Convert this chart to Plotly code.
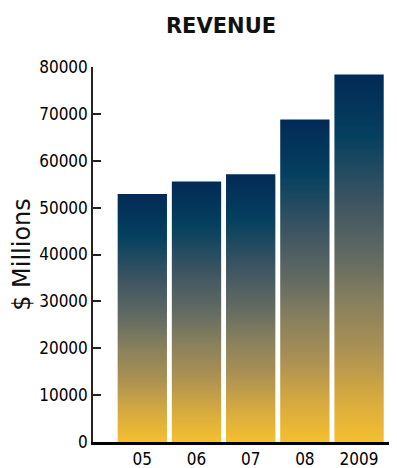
import plotly.graph_objects as go

# ---- data ----
years = ["05", "06", "07", "08", "2009"]
revenue = [52900, 55600, 57100, 68800, 78400]
y_ticks = [0, 10000, 20000, 30000, 40000, 50000, 60000, 70000, 80000]

# ---- style ----
# the page body has an 8px margin, so the figure is sized to the visible area
W, H = 389, 460
bar_width = 0.91
gradient = [
    [0.00, "#f5bf2f"],
    [0.12, "#d6aa40"],
    [0.25, "#ab9153"],
    [0.38, "#88805e"],
    [0.50, "#636b62"],
    [0.65, "#3e5562"],
    [0.83, "#05405f"],
    [1.00, "#022a55"],
]
tick_font = dict(family="DejaVu Sans Condensed, DejaVu Sans, sans-serif", size=17, color="#000")

fig = go.Figure()
for i, (yr, v) in enumerate(zip(years, revenue)):
    x0, x1 = i - bar_width / 2, i + bar_width / 2
    fig.add_trace(go.Scatter(
        x=[x0, x1, x1, x0, x0],
        y=[0, 0, v, v, 0],
        mode="none",
        fill="toself",
        fillgradient=dict(type="vertical", colorscale=gradient),
        name=yr,
        hoverinfo="skip",
        showlegend=False,
    ))

fig.update_layout(
    width=W, height=H,
    margin=dict(l=85, r=0, t=59, b=26),
    paper_bgcolor="white", plot_bgcolor="white",
    title=dict(text="<b>REVENUE</b>", x=213 / W, xanchor="center", xref="container",
               y=1 - 18 / H, yanchor="middle", yref="container",
               font=dict(family="DejaVu Sans", size=21, color="#111")),
    showlegend=False,
)
fig.update_xaxes(
    range=[-0.91, 4.70], tickmode="array", tickvals=list(range(len(years))), ticktext=years,
    showgrid=False, zeroline=False, showline=True, linecolor="#000", linewidth=2.5,
    ticks="", tickfont=tick_font, automargin=False, fixedrange=True,
)
fig.update_yaxes(
    range=[0, 80000], tickmode="array", tickvals=y_ticks, ticktext=[str(t) for t in y_ticks],
    showgrid=False, zeroline=False, showline=True, linecolor="#222", linewidth=1.5,
    ticks="inside", ticklen=8, tickwidth=1.5, tickcolor="#222", tickfont=tick_font,
    title=dict(text="$ Millions", font=dict(family="DejaVu Sans", size=24, color="#111"), standoff=9),
    automargin=False, fixedrange=True,
)

fig.write_html("out.html")
